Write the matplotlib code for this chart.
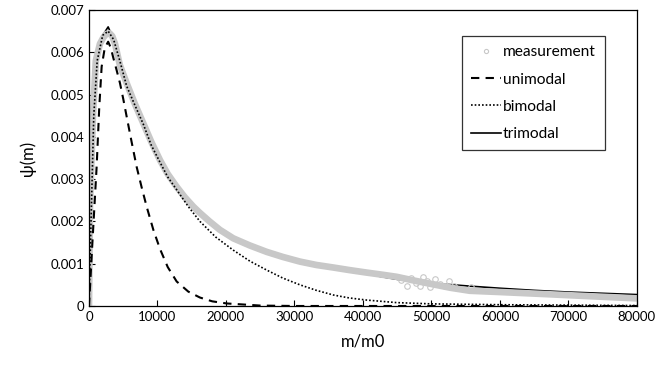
import matplotlib.pyplot as plt

# values
meas_x = [0, 150, 580, 1000, 1600, 2100, 2500, 3000, 3400, 3800, 4500, 5500, 6700, 7930,
          9100, 10365, 11500, 12800, 14000, 15230, 16200, 17600, 19120, 21070, 23500,
          25940, 28300, 30800, 33200, 35670, 38000, 40540, 42800, 44920, 47500, 50000,
          52800, 55600, 60000, 66800, 72000, 76000, 80000]
meas_y = [0, 0.0024, 0.0045, 0.0058, 0.0062, 0.00635, 0.00643, 0.00645, 0.00638, 0.0062,
          0.0057, 0.00527, 0.00478, 0.00432, 0.00388, 0.00345, 0.00312, 0.00282, 0.00257,
          0.00235, 0.0022, 0.002, 0.0018, 0.0016, 0.00143, 0.00128, 0.00116, 0.00105,
          0.00097, 0.00091, 0.00085, 0.00079, 0.00074, 0.00069, 0.0006, 0.00052, 0.00043,
          0.00036, 0.00033, 0.00028, 0.00024, 0.00021, 0.00018]

noise_x = [45500, 46500, 47000, 47800, 48300, 48800, 49300, 49800, 50500, 51200, 52000,
           52600, 53300, 55800]
noise_y = [0.00062, 0.00048, 0.00066, 0.00054, 0.00047, 0.00068, 0.00058, 0.00046,
           0.00063, 0.00052, 0.00048, 0.00058, 0.00047, 0.00044]

uni_x = [0, 500, 1120, 1500, 1850, 2300, 2800, 3200, 3500, 4000, 4525, 5000, 5500, 6200,
         6960, 7700, 8420, 9400, 10365, 11500, 12800, 14500, 16200, 18000, 20100, 25000,
         30000, 80000]
uni_y = [0, 0.0015, 0.0033, 0.0047, 0.00566, 0.0061, 0.00625, 0.0061, 0.0059, 0.0056,
         0.00527, 0.0049, 0.00448, 0.0039, 0.00329, 0.0028, 0.00235, 0.0018, 0.00135,
         0.00092, 0.00058, 0.00034, 0.0002, 0.00011, 0.00006, 0.00001, 0, 0]

bi_x = [0, 300, 700, 1200, 2000, 2800, 3600, 4500, 5500, 6700, 7930, 9100, 10365, 11500,
        12800, 14500, 16200, 18500, 21070, 23500, 25940, 28300, 30800, 33200, 35670,
        38000, 40540, 44920, 50000, 60000, 80000]
bi_y = [0, 0.002, 0.0045, 0.0058, 0.0064, 0.0065, 0.0063, 0.0058, 0.0052, 0.00475,
        0.0043, 0.0038, 0.0034, 0.00305, 0.00275, 0.00235, 0.002, 0.00163, 0.00132, 0.00106,
        0.00085, 0.00066, 0.0005, 0.00037, 0.00026, 0.00019, 0.00014, 0.00008, 0.00005,
        0.00003, 0.00001]

tri_x = [0, 300, 700, 1200, 2000, 2800, 3600, 4500, 5500, 6700, 7930, 9100, 10365, 11500,
         12800, 14000, 15230, 17000, 19120, 21070, 23500, 25940, 28300, 30800, 33200,
         35670, 38000, 40540, 42800, 45000, 50000, 55600, 60000, 65000, 70000, 75000, 80000]
tri_y = [0, 0.002, 0.0045, 0.0058, 0.0064, 0.0066, 0.0063, 0.0058, 0.0052, 0.00475,
         0.0043, 0.0038, 0.00343, 0.0031, 0.0028, 0.00256, 0.00235, 0.00208, 0.00182,
         0.00164, 0.00146, 0.0013, 0.00118, 0.00107, 0.00098, 0.0009, 0.00083, 0.00076,
         0.00069, 0.00063, 0.00054, 0.00047, 0.00042, 0.00037, 0.00033, 0.0003, 0.00027]

plt.rcParams['font.family'] = ['Lato', 'DejaVu Sans']
gray = '#c8c8c8'

fig = plt.figure(figsize=(6.65, 3.7), dpi=100)
ax = fig.add_axes([0.1338, 0.173, 0.824, 0.8])

# measurement band plus scattered points
ax.plot(meas_x, meas_y, color=gray, lw=4.8, solid_capstyle='round', zorder=2)
ax.plot(noise_x, noise_y, 'o', ms=4, mfc='none', mec=gray, mew=0.8, zorder=2)
ax.plot([], [], 'o', ms=3, mfc='none', mec=gray, mew=0.8, label='measurement')

ax.plot(uni_x, uni_y, color='black', lw=1.5, ls=(0, (4, 3)), label='unimodal', zorder=3)
ax.plot(bi_x, bi_y, color='black', lw=1.2, ls=(0, (1, 1.2)), label='bimodal', zorder=3)
ax.plot(tri_x, tri_y, color='black', lw=1.2, label='trimodal', zorder=1)

ax.set_xlim(0, 80000)
ax.set_ylim(0, 0.007)
ax.set_xticks(range(0, 80001, 10000))
ax.set_yticks([i / 1000 for i in range(8)])
ax.set_yticklabels(['0'] + ['%.3f' % (i / 1000) for i in range(1, 8)])
ax.tick_params(direction='in', labelsize=9.5, length=4, width=0.8)
for s in ax.spines.values():
    s.set_linewidth(0.9)

ax.set_xlabel('m/m0', fontsize=12, labelpad=8)
ax.set_ylabel('ψ(m)', fontsize=12, labelpad=10)

leg = ax.legend(loc='upper left', bbox_to_anchor=(0.681, 0.912), fontsize=11.2,
                frameon=True, fancybox=False, edgecolor='black', handlelength=1.9,
                handletextpad=0.1, labelspacing=0.85, borderpad=0.6, borderaxespad=0)
leg.get_frame().set_linewidth(0.9)

fig.savefig('out.png', dpi=100)
